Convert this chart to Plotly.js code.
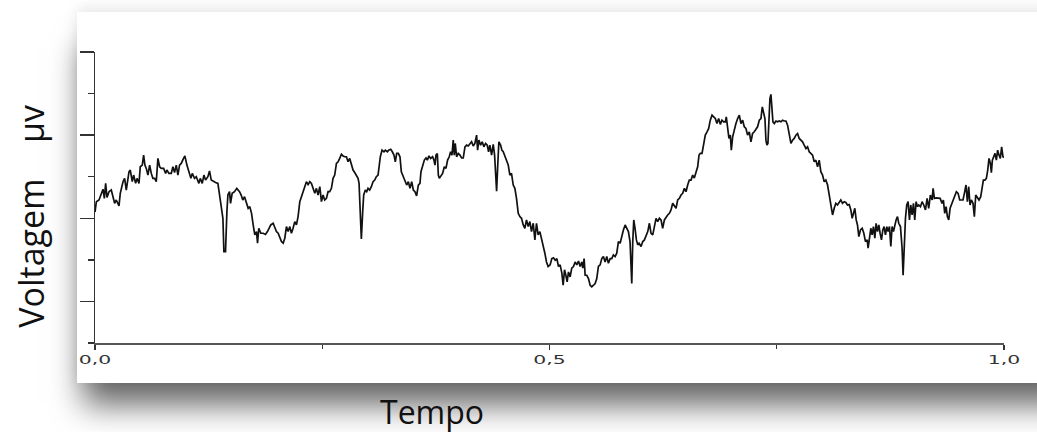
<!DOCTYPE html>
<html>
<head>
<meta charset="utf-8">
<script src="https://cdn.plot.ly/plotly-3.0.1.min.js"></script>
<style>
  html, body { margin: 0; padding: 0; width: 1037px; height: 432px; overflow: hidden; background: #ffffff; }
  #card {
    position: absolute; left: 77px; top: 12px; width: 1000px; height: 371px;
    background: #ffffff;
    box-shadow: 0 -3px 14px rgba(0,0,0,0.10), 0 28px 30px -6px rgba(0,0,0,0.60);
  }
  #chart { position: absolute; left: 0; top: 0; width: 1037px; height: 432px; }
  /* rótulos do tempo em largura expandida */
  g.xtick { transform-box: fill-box; transform-origin: center; transform: scaleX(1.7); }
</style>
</head>
<body>
<div id="card"></div>
<div id="chart"></div>
<script>
// Tempo (s, normalizado) e voltagem (µV) do registo
const tempo = [
  0.0000,0.0015,0.0044,0.0070,0.0088,0.0103,0.0117,0.0132,0.0154,0.0179,
  0.0198,0.0216,0.0234,0.0264,0.0278,0.0308,0.0326,0.0344,0.0374,0.0388,
  0.0410,0.0425,0.0447,0.0462,0.0484,0.0498,0.0520,0.0535,0.0549,0.0564,
  0.0582,0.0601,0.0619,0.0637,0.0656,0.0674,0.0692,0.0711,0.0729,0.0755,
  0.0777,0.0791,0.0813,0.0839,0.0857,0.0875,0.0894,0.0912,0.0930,0.0949,
  0.0974,0.0989,0.1011,0.1033,0.1055,0.1070,0.1095,0.1114,0.1143,0.1158,
  0.1180,0.1198,0.1216,0.1242,0.1260,0.1279,0.1304,0.1326,0.1352,0.1370,
  0.1388,0.1407,0.1418,0.1436,0.1451,0.1462,0.1480,0.1491,0.1509,0.1535,
  0.1560,0.1590,0.1608,0.1626,0.1645,
  0.1667,0.1685,0.1703,0.1722,0.1740,0.1758,0.1777,0.1788,0.1802,0.1824,
  0.1850,0.1875,0.1897,0.1912,0.1934,0.1960,0.1978,0.1996,0.2015,0.2033,
  0.2051,0.2070,0.2088,0.2106,0.2125,0.2143,0.2161,0.2179,0.2198,0.2216,
  0.2234,0.2253,0.2271,0.2289,0.2308,0.2326,0.2344,0.2363,0.2381,0.2399,
  0.2418,0.2436,0.2454,0.2473,0.2491,0.2509,0.2527,0.2546,0.2564,0.2582,
  0.2601,0.2619,0.2637,0.2656,0.2674,0.2692,0.2711,0.2729,0.2747,0.2766,
  0.2784,0.2802,0.2821,0.2839,0.2857,0.2875,0.2894,0.2905,0.2916,0.2930,
  0.2945,0.2956,0.2974,0.2989,0.3004,0.3022,0.3040,0.3059,0.3077,0.3095,
  0.3114,0.3125,0.3139,0.3158,0.3179,0.3194,0.3216,0.3231,0.3253,0.3271,
  0.3289,0.3304,0.3319,
  0.3337,0.3355,0.3370,0.3392,0.3410,0.3429,0.3447,0.3465,0.3484,0.3502,
  0.3520,0.3538,0.3557,0.3575,0.3586,0.3604,0.3623,0.3641,0.3656,0.3674,
  0.3692,0.3714,0.3729,0.3740,0.3751,0.3766,0.3777,0.3788,0.3806,0.3824,
  0.3843,0.3861,0.3879,0.3897,0.3912,0.3927,0.3941,0.3952,0.3963,0.3978,
  0.3996,0.4015,0.4033,0.4051,0.4070,0.4088,0.4106,0.4125,0.4143,0.4161,
  0.4179,0.4198,0.4209,0.4223,0.4242,0.4260,0.4278,0.4297,0.4315,0.4330,
  0.4344,0.4363,0.4381,0.4396,0.4407,0.4418,0.4429,0.4443,0.4462,0.4476,
  0.4491,0.4509,0.4527,0.4546,0.4564,0.4582,0.4601,0.4619,0.4637,0.4656,
  0.4674,0.4692,0.4711,0.4729,0.4747,0.4766,0.4784,0.4802,0.4821,0.4839,
  0.4857,0.4875,0.4894,0.4912,0.4930,0.4949,0.4967,0.4985,
  0.5007,0.5026,0.5044,0.5062,0.5081,0.5099,0.5117,0.5136,0.5150,0.5165,
  0.5180,0.5194,0.5209,0.5227,0.5245,0.5264,0.5282,0.5300,0.5319,0.5337,
  0.5355,0.5366,0.5381,0.5392,0.5410,0.5429,0.5447,0.5465,0.5484,0.5502,
  0.5520,0.5538,0.5557,0.5575,0.5593,0.5612,0.5630,0.5648,0.5667,0.5685,
  0.5703,0.5722,0.5740,0.5758,0.5777,0.5795,0.5813,0.5832,0.5850,0.5868,
  0.5886,0.5897,0.5905,0.5916,0.5927,0.5941,0.5956,0.5971,0.5985,0.6007,
  0.6026,0.6044,0.6062,0.6081,0.6099,0.6117,0.6136,0.6154,0.6172,0.6190,
  0.6209,0.6227,0.6245,0.6264,0.6282,0.6300,0.6319,0.6337,0.6355,0.6374,
  0.6392,0.6410,0.6429,0.6447,0.6465,0.6484,0.6502,0.6520,0.6538,0.6557,
  0.6575,0.6593,0.6612,0.6630,0.6645,0.6659,
  0.6678,0.6696,0.6714,0.6733,0.6751,0.6769,0.6788,0.6806,0.6824,0.6842,
  0.6861,0.6879,0.6897,0.6916,0.6934,0.6945,0.6960,0.6974,0.6989,0.7000,
  0.7015,0.7033,0.7051,0.7070,0.7088,0.7106,0.7125,0.7143,0.7161,0.7179,
  0.7198,0.7216,0.7234,0.7253,0.7271,0.7289,0.7308,0.7326,0.7341,0.7355,
  0.7370,0.7381,0.7392,0.7403,0.7414,0.7425,0.7436,0.7447,0.7458,0.7473,
  0.7491,0.7509,0.7527,0.7546,0.7564,0.7582,0.7601,0.7619,0.7637,0.7656,
  0.7674,0.7692,0.7711,0.7729,0.7747,0.7766,0.7784,0.7802,0.7821,0.7839,
  0.7857,0.7875,0.7894,0.7912,0.7930,0.7949,0.7967,0.7985,0.8004,0.8022,
  0.8040,0.8059,0.8077,0.8095,0.8114,0.8132,0.8150,0.8168,0.8187,0.8205,
  0.8223,0.8242,0.8260,0.8278,0.8297,0.8315,0.8330,
  0.8348,0.8359,0.8374,0.8388,0.8403,0.8421,0.8440,0.8458,0.8476,0.8495,
  0.8505,0.8520,0.8535,0.8549,0.8564,0.8579,0.8593,0.8608,0.8623,0.8637,
  0.8652,0.8667,0.8681,0.8696,0.8711,0.8725,0.8740,0.8755,0.8769,0.8784,
  0.8799,0.8813,0.8828,0.8842,0.8861,0.8879,0.8890,0.8901,0.8916,0.8930,
  0.8945,0.8960,0.8974,0.8989,0.9004,0.9018,0.9033,0.9048,0.9062,0.9081,
  0.9099,0.9117,0.9136,0.9154,0.9172,0.9190,0.9209,0.9220,0.9234,0.9253,
  0.9275,0.9297,0.9319,0.9333,0.9348,0.9363,0.9377,0.9392,0.9407,0.9421,
  0.9440,0.9458,0.9476,0.9495,0.9513,0.9531,0.9549,0.9568,0.9582,0.9597,
  0.9612,0.9626,0.9641,0.9659,0.9674,0.9689,0.9707,0.9725,0.9744,0.9758,
  0.9773,0.9791,0.9806,0.9821,0.9835,0.9850,0.9861,0.9872,0.9886,0.9901,
  0.9916,0.9930,0.9945,0.9960,0.9974,0.9989,1.0000
];

const voltagem = [
  3.15,3.40,3.44,3.62,3.70,3.48,3.84,3.50,3.64,3.68,
  3.48,3.36,3.44,3.30,3.60,3.88,3.96,3.68,4.12,4.16,
  3.88,4.04,3.84,3.96,3.84,4.24,4.28,4.52,4.28,4.20,
  4.04,4.28,4.08,3.96,3.96,3.88,4.44,4.24,4.20,4.20,
  4.08,4.16,4.08,4.08,4.24,4.10,4.28,4.04,4.28,4.32,
  4.44,4.50,4.28,4.12,3.96,4.08,3.96,4.00,3.84,3.96,
  3.84,4.04,3.92,4.00,4.14,3.92,3.88,3.86,3.84,3.60,
  3.32,3.00,2.20,2.20,3.16,3.56,3.64,3.36,3.60,3.64,
  3.72,3.64,3.56,3.44,3.52,
  3.36,3.24,3.28,3.12,2.84,2.60,2.68,2.40,2.76,2.64,
  2.64,2.61,2.68,2.76,2.84,2.88,2.80,2.68,2.64,2.52,
  2.44,2.40,2.52,2.80,2.68,2.80,2.64,2.76,2.92,2.84,
  3.04,3.40,3.52,3.68,3.80,3.88,3.81,3.88,3.84,3.72,
  3.60,3.72,3.56,3.76,3.40,3.56,3.44,3.48,3.64,3.64,
  3.72,3.96,4.04,4.32,4.36,4.44,4.54,4.50,4.48,4.48,
  4.36,4.44,4.28,4.16,4.10,4.04,3.96,3.84,3.16,2.50,
  3.16,3.56,3.68,3.64,3.72,3.68,3.76,3.88,3.92,4.00,
  4.04,4.32,4.48,4.64,4.60,4.64,4.60,4.64,4.66,4.60,
  4.52,4.36,4.56,
  4.56,4.48,4.12,4.00,3.92,3.80,3.88,3.72,3.88,3.68,
  3.64,3.54,3.80,3.84,4.12,4.28,4.40,4.45,4.40,4.50,
  4.44,4.48,4.40,4.28,4.52,4.56,4.04,3.96,4.04,4.08,
  4.24,4.20,4.40,4.48,4.60,4.52,4.88,4.52,4.80,4.48,
  4.56,4.52,4.45,4.45,4.72,4.76,4.74,4.78,4.84,4.74,
  4.80,5.00,4.64,4.88,4.76,4.84,4.72,4.80,4.76,4.60,
  4.76,4.52,4.78,4.52,4.12,3.65,4.20,4.84,4.76,4.64,
  4.60,4.48,4.36,4.28,4.04,4.08,3.80,3.72,3.48,3.12,
  3.04,3.00,2.84,2.76,2.96,2.80,2.92,2.68,2.88,2.48,
  2.88,2.60,2.68,2.52,2.36,2.16,1.95,1.84,
  1.88,2.03,2.05,1.99,2.03,1.84,1.88,1.68,1.39,1.76,
  1.63,1.47,1.71,1.59,1.80,1.84,1.95,1.88,1.97,1.84,
  1.95,1.80,2.03,1.63,1.63,1.55,1.39,1.35,1.39,1.43,
  1.55,1.84,1.88,2.03,2.08,1.95,2.08,1.92,2.03,2.03,
  2.12,2.08,2.16,2.44,2.40,2.60,2.72,2.84,2.76,2.68,
  2.44,2.03,1.43,2.44,2.96,2.76,2.48,2.36,2.40,2.32,
  2.44,2.48,2.60,2.68,2.88,2.64,2.60,2.84,3.00,2.92,
  3.00,2.96,2.76,2.96,3.04,3.08,3.12,3.20,3.36,3.28,
  3.24,3.44,3.48,3.56,3.60,3.72,3.64,3.80,3.92,3.92,
  4.04,3.97,4.10,4.24,4.52,4.56,
  4.56,4.76,5.00,5.08,5.16,5.36,5.48,5.44,5.40,5.28,
  5.40,5.26,5.36,5.32,5.32,5.44,5.08,4.92,5.00,4.64,
  4.96,5.16,5.28,5.40,5.48,5.28,5.36,5.20,5.16,5.00,
  5.08,4.84,5.04,5.08,5.16,5.20,5.36,5.40,5.68,5.52,
  5.40,4.88,4.76,4.80,5.40,5.88,5.98,5.64,5.32,5.28,
  5.34,5.32,5.34,5.32,5.36,5.34,5.34,5.24,5.04,4.80,
  4.88,4.92,5.00,5.04,4.92,4.88,4.84,4.76,4.68,4.72,
  4.60,4.56,4.52,4.36,4.40,4.24,4.40,4.12,4.04,3.88,
  3.92,3.80,3.56,3.32,3.08,3.24,3.36,3.32,3.40,3.44,
  3.36,3.40,3.38,3.32,3.33,3.20,3.00,
  3.16,3.24,2.96,2.84,2.56,2.72,2.76,2.64,2.44,2.48,
  2.28,2.60,2.76,2.60,2.80,2.52,2.88,2.68,2.84,2.64,
  2.48,2.72,2.80,2.60,2.80,2.68,2.80,2.32,2.80,2.68,
  2.84,2.96,3.04,2.88,2.80,2.28,1.63,2.36,3.00,3.32,
  3.40,2.96,3.32,3.08,3.36,2.96,3.40,3.28,3.32,3.28,
  3.40,3.32,3.20,3.48,3.24,3.56,3.44,3.72,3.48,3.49,
  3.49,3.48,3.36,3.44,3.12,3.28,3.04,2.96,3.24,3.32,
  3.44,3.56,3.64,3.60,3.44,3.44,3.44,3.64,3.80,3.40,
  3.76,3.32,3.44,3.36,3.04,3.56,3.48,3.44,3.52,3.72,
  3.92,3.92,3.96,4.16,4.44,4.32,4.10,4.40,4.48,4.56,
  4.40,4.64,4.52,4.44,4.72,4.48,4.46
];

// Rótulos dos eixos e marcas do eixo do tempo
const rotuloX = 'Tempo';
const rotuloY = 'Voltagem\u00a0\u00a0\u00a0\u00a0µv';
const marcasTempo = [0, 0.5, 1];
const textosTempo = ['0,0', '0,5', '1,0'];

const trace = {
  x: tempo,
  y: voltagem,
  type: 'scatter',
  mode: 'lines',
  line: { color: '#111111', width: 1.7, shape: 'linear' },
  hoverinfo: 'skip'
};

const layout = {
  width: 1037,
  height: 432,
  margin: { l: 95, r: 33, t: 52, b: 89 },
  paper_bgcolor: 'rgba(0,0,0,0)',
  plot_bgcolor: 'rgba(0,0,0,0)',
  showlegend: false,
  xaxis: {
    range: [0, 1],
    tickmode: 'array',
    tickvals: marcasTempo,
    ticktext: textosTempo,
    ticks: 'outside',
    ticklen: 5,
    tickwidth: 1.3,
    tickcolor: '#333',
    showline: true,
    linecolor: '#555',
    linewidth: 1.5,
    showgrid: false,
    zeroline: false,
    tickfont: { family: 'DejaVu Sans', size: 12, color: '#333' },
    minor: { dtick: 0.25, tick0: 0, ticks: 'outside', ticklen: 4, tickwidth: 1.3, tickcolor: '#333', showgrid: false }
  },
  yaxis: {
    range: [0, 7],
    tick0: 1,
    dtick: 2,
    ticks: 'outside',
    ticklen: 14,
    tickwidth: 1.3,
    tickcolor: '#333',
    showticklabels: false,
    showline: true,
    linecolor: '#333',
    linewidth: 1.5,
    showgrid: false,
    zeroline: false,
    minor: { dtick: 1, tick0: 0, ticks: 'outside', ticklen: 6, tickwidth: 1.3, tickcolor: '#333', showgrid: false }
  },
  annotations: [
    {
      text: rotuloX, xref: 'paper', yref: 'paper',
      x: 0.371, y: -0.236, xanchor: 'center', yanchor: 'middle',
      showarrow: false,
      font: { family: 'Open Sans', size: 32, color: '#111' }
    },
    {
      text: rotuloY, xref: 'paper', yref: 'paper',
      x: -0.07, y: 0.435, xanchor: 'center', yanchor: 'middle',
      textangle: -90, showarrow: false,
      font: { family: 'Open Sans', size: 34, color: '#111' }
    }
  ]
};

Plotly.newPlot('chart', [trace], layout, { staticPlot: true, displayModeBar: false });
</script>
</body>
</html>
